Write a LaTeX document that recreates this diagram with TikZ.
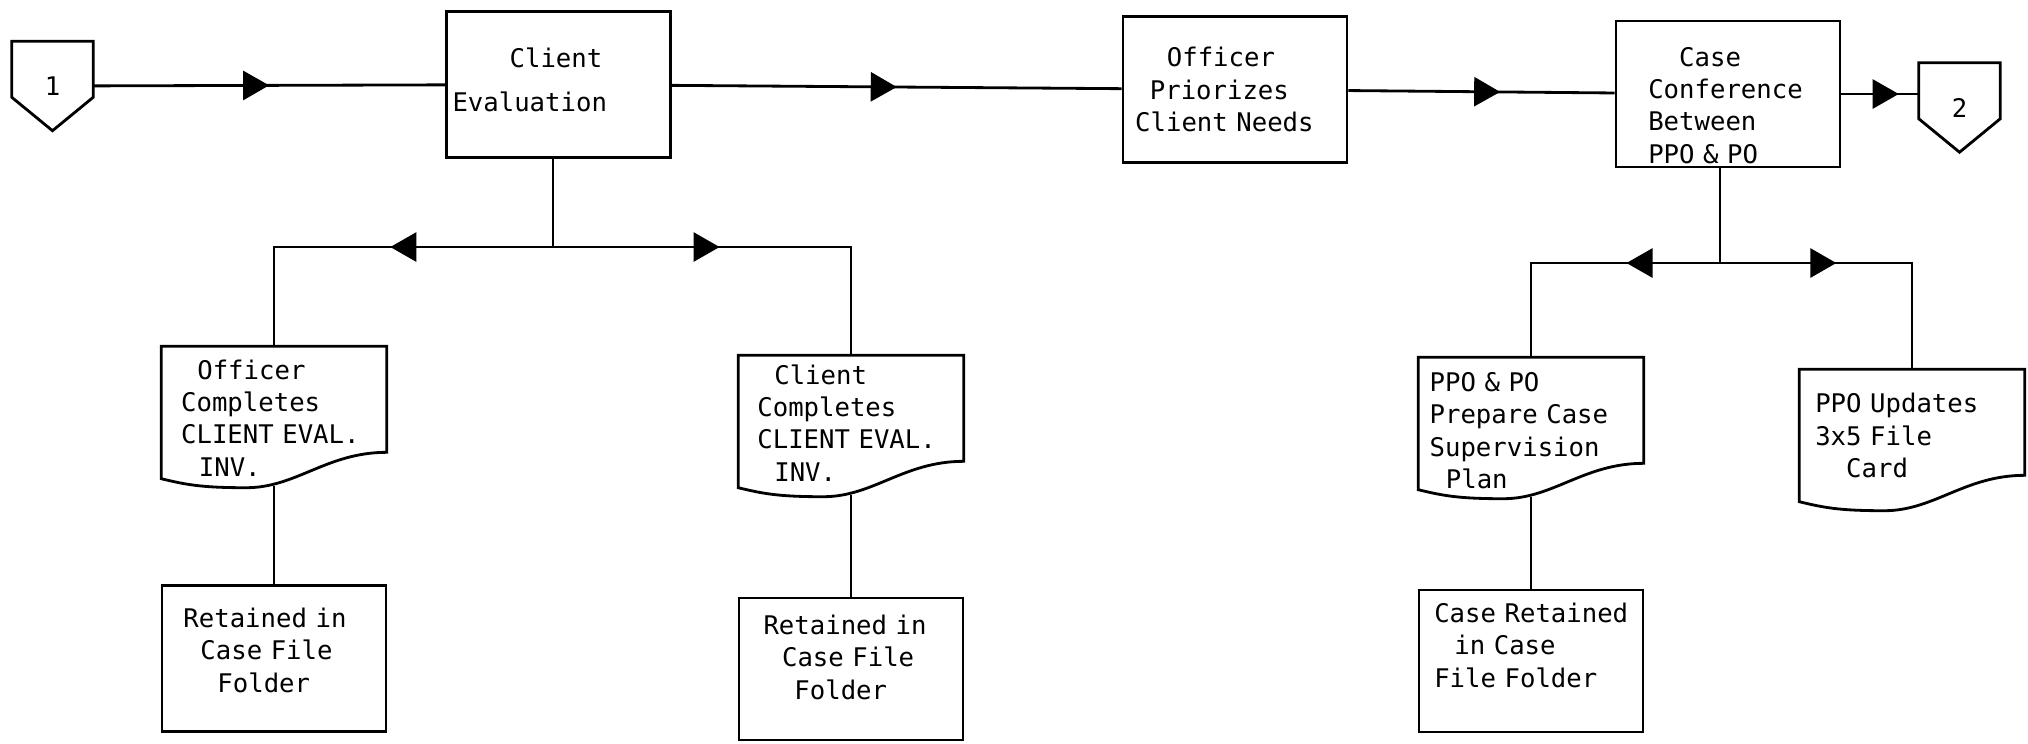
\documentclass[tikz,border=0pt]{standalone}
\usepackage{fontspec}
\setmonofont{DejaVu Sans Mono}
\usetikzlibrary{arrows.meta,decorations.markings,calc}

\newlength{\chw}
\setlength{\chw}{4.395pt}
\newcommand{\lpad}[1]{\hspace*{#1\chw}}
\newcommand{\topgap}[1]{\rule{0pt}{#1}}
\newcommand{\botgap}[1]{\rule[-#1]{0pt}{0pt}}

% document symbol, wavy bottom edge
\newcommand{\docframe}[1]{%
  \draw[flow] (#1.south west) |- (#1.north east) -- ++(0,106)
    .. controls +(-60,0) and +(50,0) .. ($(#1.south west)+(85,9)$)
    .. controls +(-45,0) and +(25,6) .. (#1.south west) -- cycle;}
% off-page connector
\newcommand{\offpage}[1]{%
  \draw[flow] (#1.north west) -- (#1.north east) -- ([yshift=-5.6mm]#1.north east)
    -- (#1.south) -- ([yshift=-5.6mm]#1.north west) -- cycle;}

\begin{document}
\begin{tikzpicture}[x=0.1mm, y=-0.1mm,
    every node/.style={font=\ttfamily\fontsize{7.3}{9.2}\selectfont},
    box/.style={draw, line width=0.8pt, text width=21.2mm, inner xsep=0.6mm,
      inner ysep=0pt, minimum height=14.6mm, align=left},
    doc/.style={text width=21.2mm, inner xsep=0.6mm, inner ysep=0pt,
      minimum height=13.1mm, align=left},
    conn/.style={minimum width=8mm, minimum height=8.8mm, inner sep=0pt},
    flow/.style={line width=0.8pt},
    arr/.style={decoration={markings, mark=at position #1 with
      {\arrow{Triangle[length=2.6mm,width=2.9mm]}}}, postaction={decorate}}]

  \useasboundingbox (0,0) rectangle (2028,743);

  % main row
  \node[conn] (p1) at (52.5,86) {1};
  \node[box] (ce) at (558.5,84.5) {\lpad{3.7}Client\\[3.4pt]Evaluation\botgap{1mm}};
  \node[box] (op) at (1235,89.5) {\lpad{2.45}Officer\\\lpad{1.35}Priorizes\\\lpad{0.4}Client Needs};
  \node[box] (cc) at (1728,94) {\topgap{4.2mm}\lpad{3.7}Case\\\lpad{1.7}Conference\\\lpad{1.7}Between\\\lpad{1.7}PPO \& PO};
  \node[conn] (p2) at (1959.5,107.5) {2};
  \offpage{p1}
  \offpage{p2}

  \draw[flow, arr=0.5] (p1) -- (ce);
  \draw[flow, arr=0.5] (ce) -- (op);
  \draw[flow, arr=0.57] (op) -- (cc);
  \draw[flow, arr=0.74] (cc.east) -- (cc.east -| p2.west);

  % left branch
  \coordinate (j1) at (553,247);
  \node[doc] (doc1) at (274,412.5) {\topgap{3mm}\lpad{1.9}Officer\\\lpad{0.85}Completes\\\lpad{0.85}CLIENT EVAL.\\\lpad{2}INV.};
  \node[doc] (doc2) at (851,421.5) {\topgap{2.2mm}\lpad{1.9}Client\\\lpad{0.8}Completes\\\lpad{0.8}CLIENT EVAL.\\\lpad{1.9}INV.};
  \docframe{doc1}
  \docframe{doc2}
  \node[box] (ret1) at (274,658.5) {\lpad{1}Retained in\\\lpad{2.1}Case File\\\lpad{3.2}Folder\botgap{1.7mm}};
  \node[box, minimum height=14.2mm] (ret2) at (851,669) {\lpad{1.2}Retained in\\\lpad{2.4}Case File\\\lpad{3.2}Folder\botgap{2.4mm}};

  \draw[flow] (ce.south -| j1) -- (j1);
  \draw[flow, arr=0.43] (j1) -| (doc1);
  \draw[flow, arr=0.41] (j1) -| (doc2);
  \draw[flow] ([yshift=-0.7mm]doc1.south) -- (ret1);
  \draw[flow] ([yshift=-0.7mm]doc2.south) -- (ret2);

  % right branch
  \coordinate (j2) at (1720,263);
  \node[doc] (doc3) at (1531,423.5) {\topgap{3.3mm}\lpad{0.3}PPO \& PO\\\lpad{0.3}Prepare Case\\\lpad{0.3}Supervision\\\lpad{1.35}Plan};
  \node[doc] (doc4) at (1912,435.5) {\lpad{0.6}PPO Updates\\\lpad{0.6}3x5 File\\\lpad{2.6}Card};
  \docframe{doc3}
  \docframe{doc4}
  \node[box, minimum height=14.2mm] (ret3) at (1531,661) {\lpad{0.6}Case Retained\\\lpad{1.9}in Case\\\lpad{0.6}File Folder\botgap{3.2mm}};

  \draw[flow] (cc.south -| j2) -- (j2);
  \draw[flow, arr=0.33] (j2) -| (doc3);
  \draw[flow, arr=0.39] (j2) -| (doc4);
  \draw[flow] ([yshift=-0.7mm]doc3.south) -- (ret3);
\end{tikzpicture}
\end{document}
